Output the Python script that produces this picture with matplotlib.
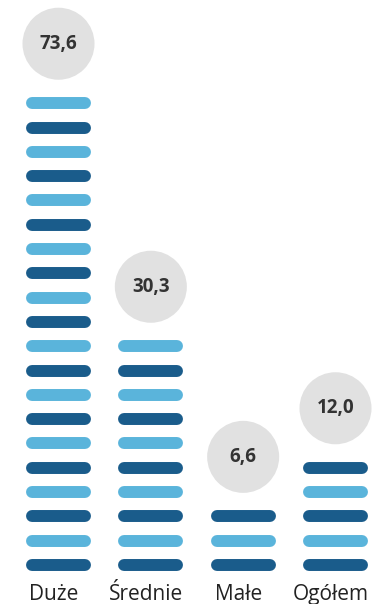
import matplotlib
matplotlib.use('Agg')
import matplotlib.pyplot as plt

categories = ["Duże", "Średnie", "Małe", "Ogółem"]
values = [73.6, 30.3, 6.6, 12.0]
pill_counts = [20, 10, 3, 5]
value_labels = ["73,6", "30,3", "6,6", "12,0"]

light = "#5ab4db"
dark = "#1a5c8b"
circle_col = "#e1e1e1"

plt.rcParams['font.family'] = ['Open Sans', 'DejaVu Sans']

fig = plt.figure(figsize=(3.74, 6.04), dpi=100)
ax = fig.add_axes([0, 0, 1, 1])
ax.set_xlim(-0.6336, 3.417)
ax.set_ylim(-1.605, 23.25)
ax.axis('off')

half = 0.287
for i, (cat, n, lab) in enumerate(zip(categories, pill_counts, value_labels)):
    for k in range(n):
        col = dark if k % 2 == 0 else light
        ax.plot([i - half, i + half], [k, k], color=col, lw=8.6,
                solid_capstyle='round')
    cy = (n - 1) + 2.45
    ax.scatter([i], [cy], s=2690, color=circle_col, edgecolors='none', zorder=3)
    ax.text(i, cy, lab, ha='center', va='center', fontsize=13.5,
            fontweight='bold', color='#333333', zorder=4)
    ax.text(i - 0.054, -1.44, cat, ha='center', va='baseline', fontsize=15,
            color='#222222')

fig.savefig("out.png", dpi=100)
